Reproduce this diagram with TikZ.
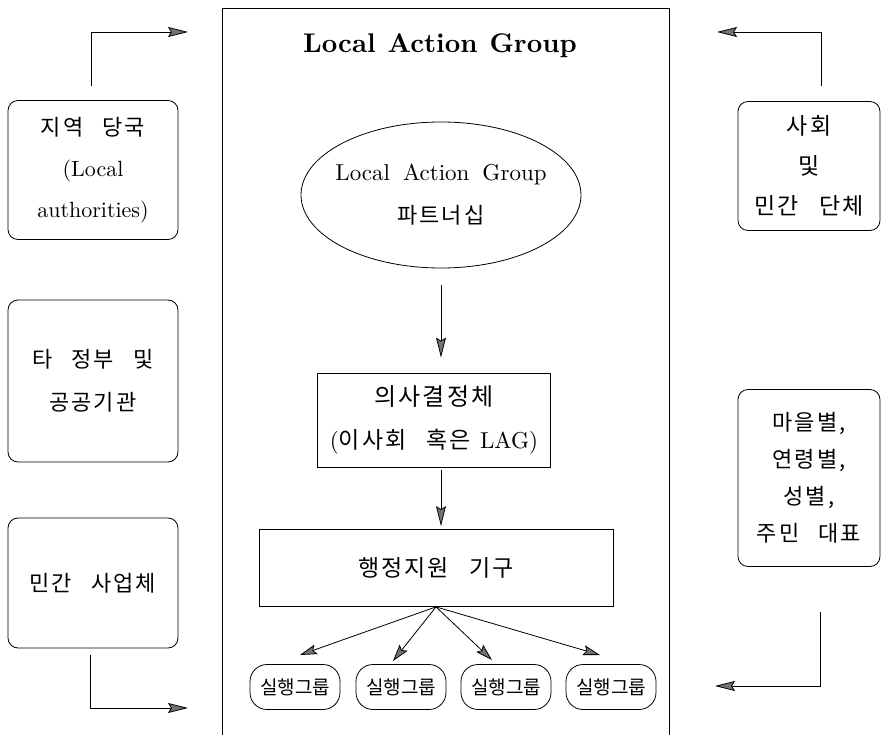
\documentclass[tikz,border=0pt]{standalone}
\usepackage{fontspec}
\usetikzlibrary{arrows.meta,shapes.geometric,calc}
% Latin text in the 10pt design of Latin Modern at every size
\setmainfont{lmroman10-regular.otf}[BoldFont=lmroman10-bold.otf]
% Korean text: letter-spaced for the labels, plain for the small group boxes
\newfontfamily\kr{Noto Sans CJK KR}[LetterSpace=9,WordSpace=2.8]
\newfontfamily\krn{Noto Sans CJK KR}
\newcommand{\gap}[1][14pt]{\hspace{#1}}
\begin{document}
\begin{tikzpicture}[x=1pt,y=-1pt,
  line width=0.8pt,
  arr/.style={-{Stealth[length=20pt,width=10pt,inset=3pt,fill=black!55]}},
  farr/.style={-{Stealth[length=17pt,width=10pt,inset=3pt,fill=black!55]}},
  sidebox/.style={draw,rounded corners=10pt,align=center,inner sep=0pt},
  plainbox/.style={draw,align=center,inner sep=0pt},
  groupbox/.style={draw,rounded corners=17pt,minimum width=90pt,minimum height=45pt,
    inner sep=0pt,font=\krn\fontsize{19}{20}\selectfont},
]
\useasboundingbox (0,0) rectangle (887,735);

% outer frame of the Local Action Group (open at the bottom edge)
\draw (222,735) -- (222,8) -- (669,8) -- (669,735);
\node (title) at (440,46) {\fontsize{27}{30}\selectfont\bfseries Local\gap[12pt]Action\gap[12pt]Group};

% inner structure: the partnership ellipse keeps its own size, its label sits on top
\node[draw,ellipse,minimum width=280pt,minimum height=146pt,inner sep=0pt] (lagp) at (441,195) {};
\node[align=center,inner sep=0pt,font=\fontsize{23}{43}\selectfont] (lagpt) at (lagp.center)
  {Local\gap[13pt]Action\gap[13pt]Group\\{\kr\fontsize{22}{43}\selectfont 파트너십}};
\node[plainbox,minimum width=233pt,minimum height=94pt,font=\fontsize{23}{43}\selectfont]
  (dm) at (434,420) {{\kr\fontsize{24}{43}\selectfont 의사결정체}\\({\kr\fontsize{23}{43}\selectfont 이사회 혹은}\gap[9pt]LAG)};
\node[plainbox,minimum width=354pt,minimum height=77pt,font=\kr\fontsize{23}{24}\selectfont]
  (as) at (436,568) {행정지원 기구};

\node[groupbox] (g1) at (295,687) {실행그룹};
\node[groupbox] (g2) at (401,687) {실행그룹};
\node[groupbox] (g3) at (506,687) {실행그룹};
\node[groupbox] (g4) at (611,687) {실행그룹};

\coordinate (t1) at (300,655);
\coordinate (t2) at (393,661);
\coordinate (t3) at (492,660);
\coordinate (t4) at (600,655);

\draw[arr,shorten <=17pt,shorten >=15pt] (lagp.south) -- (lagp.south |- dm.north);
\draw[arr,shorten <=3pt,shorten >=3pt] (dm.south -| lagp.south) -- (lagp.south |- as.north);
\draw[farr] (as.south) -- (t1);
\draw[farr] (as.south) -- (t2);
\draw[farr] (as.south) -- (t3);
\draw[farr] (as.south) -- (t4);

% partners on the left
\node[sidebox,minimum width=170pt,minimum height=139pt,font=\fontsize{22}{41}\selectfont]
  (l1) at (93,170) {{\kr 지역 당국}\\(Local\\authorities)};
\node[sidebox,minimum width=170pt,minimum height=162pt,font=\kr\fontsize{22}{43}\selectfont]
  (l2) at (93,381) {타 정부 및\\공공기관};
\node[sidebox,minimum width=170pt,minimum height=130pt,font=\kr\fontsize{22}{38}\selectfont]
  (l3) at (93,583) {민간 사업체};

% partners on the right
\node[sidebox,minimum width=142pt,minimum height=129pt,font=\kr\fontsize{23}{40}\selectfont]
  (r1) at (809,166) {사회\\및\\민간 단체};
\node[sidebox,minimum width=142pt,minimum height=177pt,font=\kr\fontsize{22}{37}\selectfont]
  (r2) at (809,478) {마을별,\\연령별,\\성별,\\주민 대표};

% flows into the group
\coordinate (l1s) at (91,86);
\coordinate (l1e) at (188,32);
\coordinate (r1s) at (821,86);
\coordinate (r1e) at (717,32);
\coordinate (l3s) at (90,655);
\coordinate (l3e) at (188,708);
\coordinate (r2s) at (820,612);
\coordinate (r2e) at (715,686);
\draw[arr] (l1s) |- (l1e);
\draw[arr] (r1s) |- (r1e);
\draw[arr] (l3s) |- (l3e);
\draw[arr] (r2s) |- (r2e);
\end{tikzpicture}
\end{document}
